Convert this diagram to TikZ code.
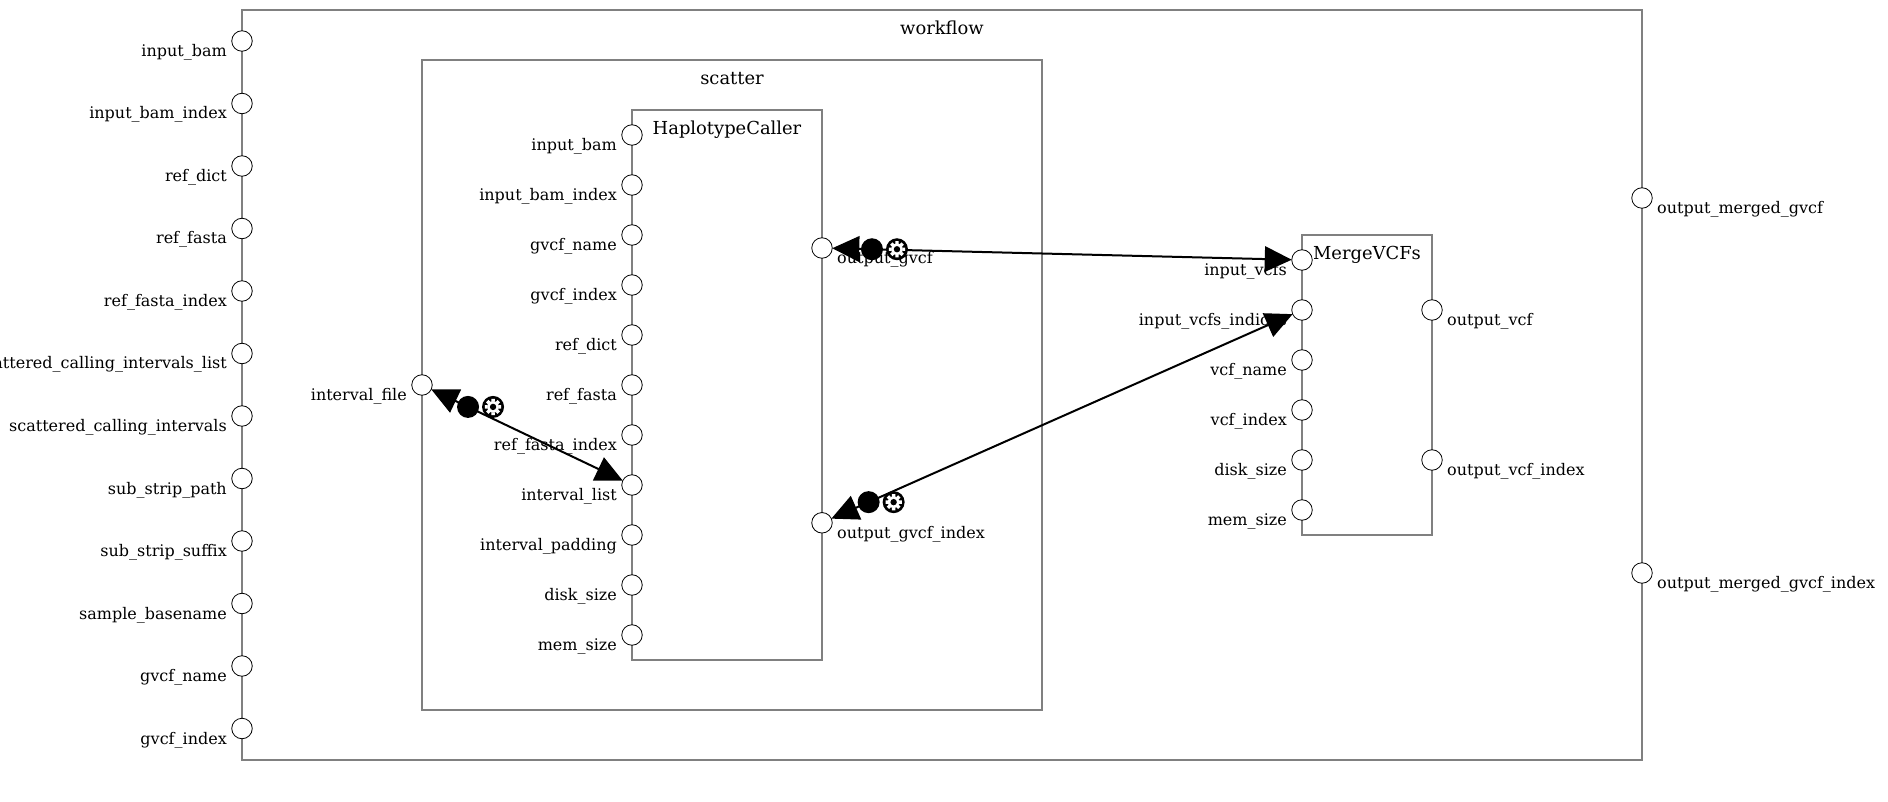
\documentclass[tikz,border=0pt]{standalone}
\usepackage{fontspec}
\setmainfont{DejaVu Serif}
\usetikzlibrary{calc,arrows.meta}
\definecolor{boxline}{HTML}{808080}
\newcommand{\gearshape}{%
  \fill[white] (0,0) circle[radius=5.8];
  \foreach \gearAngle in {0,45,90,135,180,225,270,315}{
    \fill[white] ({\gearAngle-12}:8.3) -- ({\gearAngle+12}:8.3) -- ({\gearAngle+18}:5.6) -- ({\gearAngle-18}:5.6) -- cycle;
  }
  \fill[black] (0,0) circle[radius=3.2];
}
\tikzset{
  x=1pt,y=-1pt,
  box/.style={draw=boxline,line width=2pt,inner sep=0pt,outer sep=0pt,anchor=north west},
  port/.style={circle,draw=black,line width=0.8pt,fill=white,minimum size=20.5pt,inner sep=0pt,outer sep=0pt},
  lblL/.style={anchor=base east,inner sep=0pt,font=\fontsize{16}{18}\selectfont},
  lblR/.style={anchor=base west,inner sep=0pt,font=\fontsize{16}{18}\selectfont},
  title/.style={anchor=base,inner sep=0pt,font=\fontsize{17.9}{20}\selectfont},
  link/.style={draw=black,line width=2pt,{Triangle[length=27pt,width=25.5pt]}-{Triangle[length=27pt,width=25.5pt]}},
  stepdot/.style={circle,fill=black,minimum size=22pt,inner sep=0pt},
  gear/.style={circle,fill=black,minimum size=22pt,inner sep=0pt,
    path picture={
      \begin{scope}[shift={(path picture bounding box.center)}]
        \gearshape
      \end{scope}
    }},
}
\begin{document}
\begin{tikzpicture}
\useasboundingbox (0,0) rectangle (1888,802);
% boxes
\node[box,minimum width=1400pt,minimum height=750pt] (workflow) at (242,10) {};
\node[box,minimum width=620pt,minimum height=650pt] (scatter) at (422,60) {};
\node[box,minimum width=190pt,minimum height=550pt] (hc) at (632,110) {};
\node[box,minimum width=130pt,minimum height=300pt] (mv) at (1302,235) {};
\node[title] (tw) at (942,35) {workflow};
\node[title] (ts) at (732,85) {scatter};
\node[title] (th) at (727,135) {HaplotypeCaller};
\node[title] (tm) at (1367,259.5) {MergeVCFs};
% workflow inputs
\foreach \t [count=\i from 0] in {input\_bam,input\_bam\_index,ref\_dict,ref\_fasta,ref\_fasta\_index,scattered\_calling\_intervals\_list,scattered\_calling\_intervals,sub\_strip\_path,sub\_strip\_suffix,sample\_basename,gvcf\_name,gvcf\_index}{
  \node[port] (w\i) at (242,{41+62.5*\i}) {};
  \node[lblL] (wl\i) at ($(w\i.center)+(-15,15.5)$) {\t};
}
% workflow outputs
\node[port] (wo0) at (1642,198) {};
\node[lblR] (wol0) at ($(wo0.center)+(15,15.5)$) {output\_merged\_gvcf};
\node[port] (wo1) at (1642,573) {};
\node[lblR] (wol1) at ($(wo1.center)+(15,15.5)$) {output\_merged\_gvcf\_index};
% scatter input
\node[port] (si) at (422,385) {};
\node[lblL] (sil) at ($(si.center)+(-15,15.5)$) {interval\_file};
% HaplotypeCaller inputs
\foreach \t [count=\i from 0] in {input\_bam,input\_bam\_index,gvcf\_name,gvcf\_index,ref\_dict,ref\_fasta,ref\_fasta\_index,interval\_list,interval\_padding,disk\_size,mem\_size}{
  \node[port] (h\i) at (632,{135+50*\i}) {};
  \node[lblL] (hl\i) at ($(h\i.center)+(-15,15.5)$) {\t};
}
\node[port] (ho0) at (822,248) {};
\node[lblR] (hol0) at ($(ho0.center)+(15,15.5)$) {output\_gvcf};
\node[port] (ho1) at (822,522.8) {};
\node[lblR] (hol1) at ($(ho1.center)+(15,15.5)$) {output\_gvcf\_index};
% MergeVCFs inputs
\foreach \t [count=\i from 0] in {input\_vcfs,input\_vcfs\_indices,vcf\_name,vcf\_index,disk\_size,mem\_size}{
  \node[port] (m\i) at (1302,{260+50*\i}) {};
  \node[lblL] (ml\i) at ($(m\i.center)+(-15,15.5)$) {\t};
}
\node[port] (mo0) at (1432,310) {};
\node[lblR] (mol0) at ($(mo0.center)+(15,15.5)$) {output\_vcf};
\node[port] (mo1) at (1432,460) {};
\node[lblR] (mol1) at ($(mo1.center)+(15,15.5)$) {output\_vcf\_index};
% connectors with step markers
\draw[link] (si) -- (h7);
\node[stepdot] (da) at ($(si.center)!51pt!(h7.center)$) {};
\node[gear] (ga) at ($(da.center)+(25,0)$) {};
\draw[link] (ho0) -- (m0);
\node[stepdot] (db) at ($(ho0.center)!50pt!(m0.center)$) {};
\node[gear] (gb) at ($(db.center)+(25,0)$) {};
\draw[link] (ho1) -- (m1);
\node[stepdot] (dc) at ($(ho1.center)!51pt!(m1.center)$) {};
\node[gear] (gc) at ($(dc.center)+(25,0)$) {};
\end{tikzpicture}
\end{document}
